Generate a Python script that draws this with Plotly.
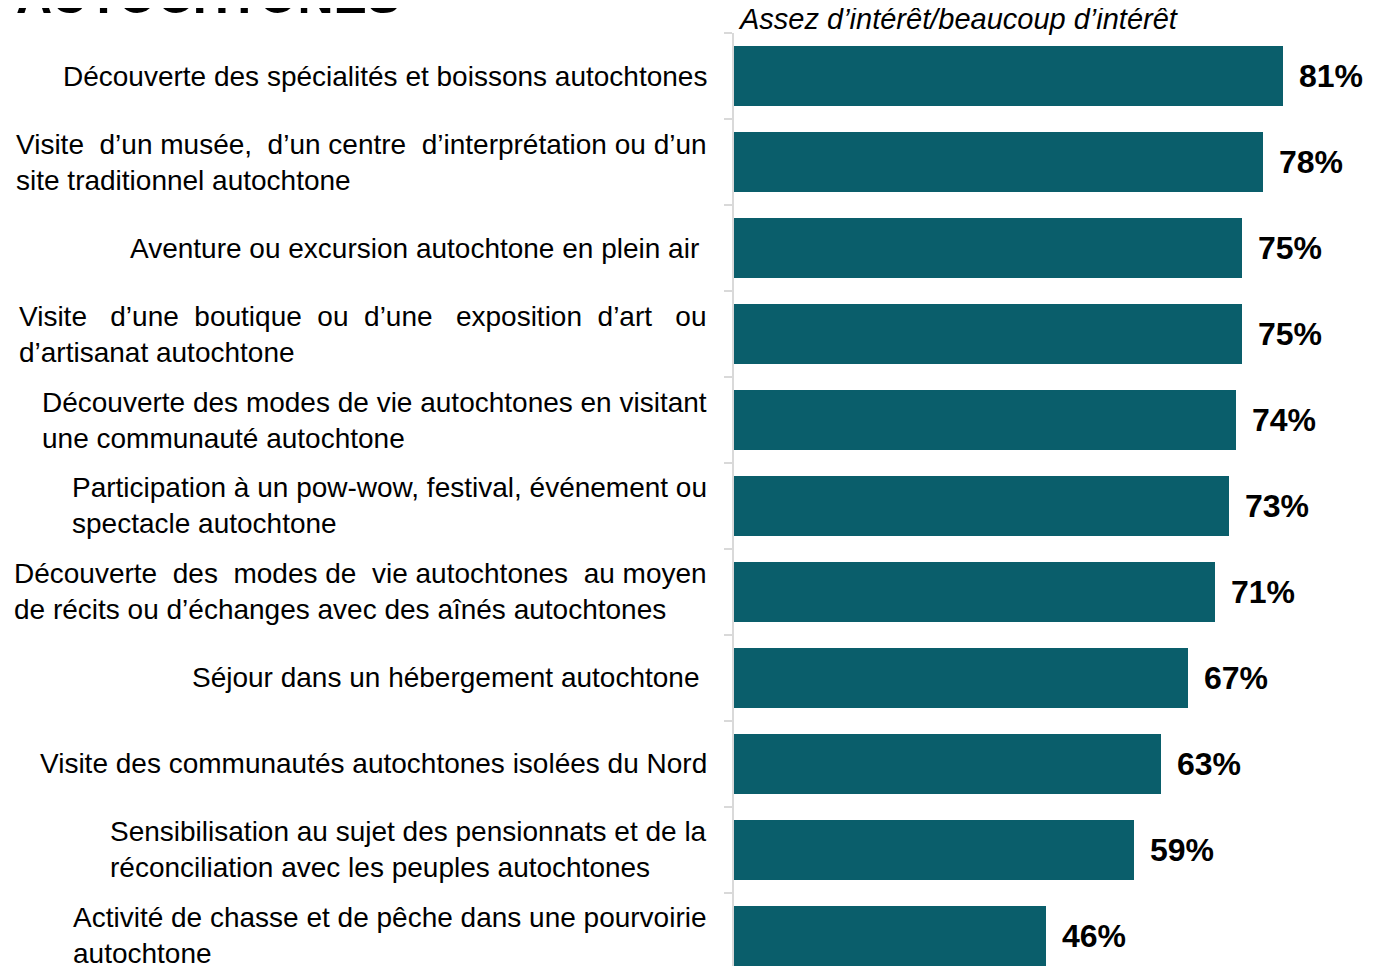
import plotly.graph_objects as go

# Activities and share of respondents with some/high interest
labels = [
    "Découverte des spécialités et boissons autochtones",
    "Visite  d’un musée,  d’un centre  d’interprétation ou d’un<br>site traditionnel autochtone",
    "Aventure ou excursion autochtone en plein air ",
    "Visite   d’une  boutique  ou  d’une   exposition  d’art   ou<br>d’artisanat autochtone",
    "Découverte des modes de vie autochtones en visitant<br>une communauté autochtone",
    "Participation à un pow-wow, festival, événement ou<br>spectacle autochtone",
    "Découverte  des  modes de  vie autochtones  au moyen<br>de récits ou d’échanges avec des aînés autochtones",
    "Séjour dans un hébergement autochtone ",
    "Visite des communautés autochtones isolées du Nord",
    "Sensibilisation au sujet des pensionnats et de la<br>réconciliation avec les peuples autochtones",
    "Activité de chasse et de pêche dans une pourvoirie<br>autochtone",
]
values = [81, 78, 75, 75, 74, 73, 71, 67, 63, 59, 46]

pos = list(range(len(values)))
bar_color = "#0a5e6b"
font_family = "Liberation Sans, Arial, sans-serif"

fig = go.Figure()
fig.add_trace(go.Bar(
    x=values, y=pos, orientation="h",
    marker=dict(color=bar_color, line=dict(width=0)),
    width=0.7, hoverinfo="skip",
))

# category labels to the left of the axis
for p, lab in zip(pos, labels):
    fig.add_annotation(
        x=0, y=p, xref="x", yref="y", text=lab, showarrow=False,
        xanchor="right", yanchor="middle", align="left", xshift=-25,
        font=dict(family=font_family, size=28, color="#000000"),
    )

# value labels at the end of each bar
for p, v in zip(pos, values):
    fig.add_annotation(
        x=v, y=p, xref="x", yref="y", text="<b>%d%%</b>" % v, showarrow=False,
        xanchor="left", yanchor="middle", xshift=14,
        font=dict(family=font_family, size=32, color="#000000"),
    )

# column header
fig.add_annotation(
    x=0, y=1, xref="paper", yref="paper", text="<i>Assez d’intérêt/beaucoup d’intérêt</i>",
    showarrow=False, xanchor="left", yanchor="middle", xshift=2, yshift=14,
    font=dict(family=font_family, size=29, color="#000000"),
)

# clipped title at the very top
fig.add_annotation(
    x=0, y=1, xref="paper", yref="paper", text="<b>AUTOCHTONES</b>",
    showarrow=False, xanchor="left", yanchor="middle", xshift=-720, yshift=37,
    font=dict(family=font_family, size=50, color="#000000"),
)

fig.update_xaxes(range=[0, 97.8], visible=False, fixedrange=True)
fig.update_yaxes(
    range=[10.442, -0.5],
    showline=True, linecolor="#d9d9d9", linewidth=2,
    tickmode="array", tickvals=[p - 0.5 for p in pos] + [10.5],
    ticks="outside", ticklen=8, tickwidth=2, tickcolor="#d9d9d9",
    showticklabels=False, showgrid=False, zeroline=False,
)
fig.update_layout(
    width=1389, height=966,
    margin=dict(l=726, r=0, t=25, b=0),
    paper_bgcolor="white", plot_bgcolor="white",
    showlegend=False, bargap=0,
)

fig.write_html("out.html")
